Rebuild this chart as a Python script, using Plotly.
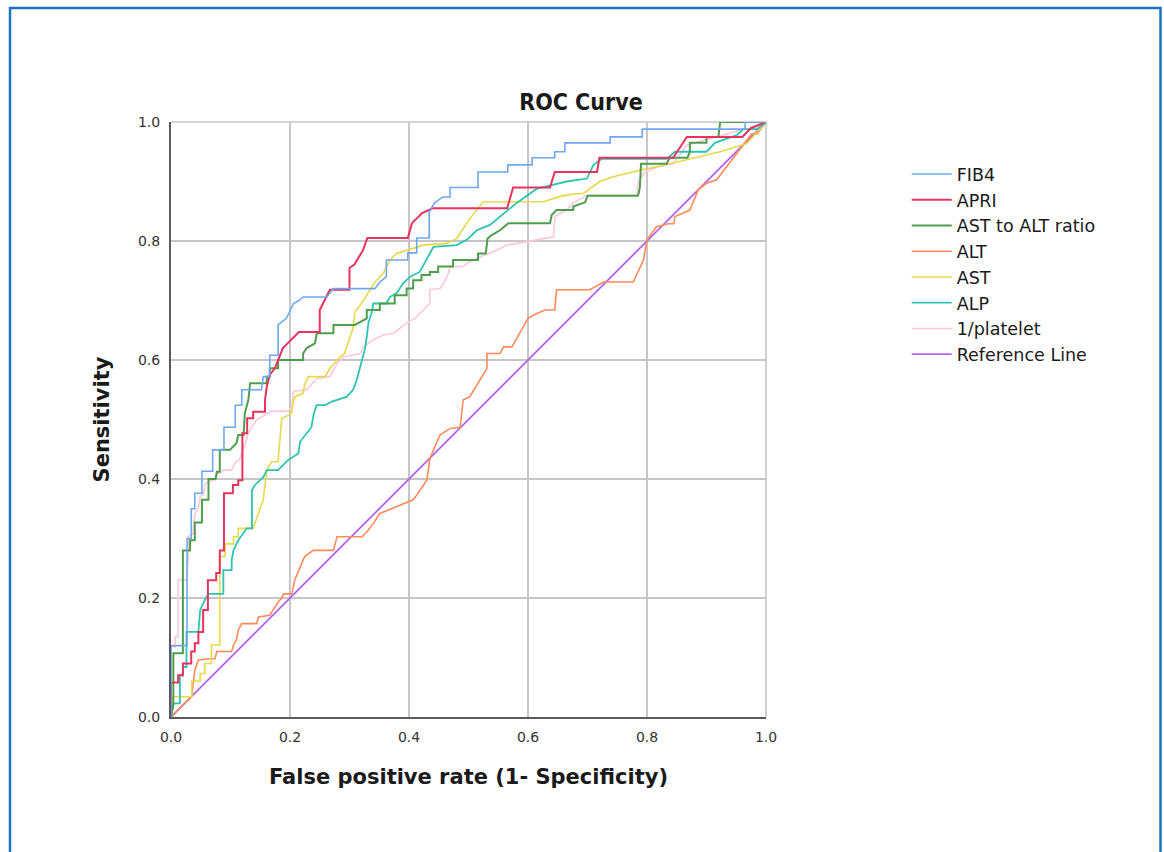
import plotly.graph_objects as go

tick_vals = [0.0, 0.2, 0.4, 0.6, 0.8, 1.0]
tick_text = ["0.0", "0.2", "0.4", "0.6", "0.8", "1.0"]

series_names = ["FIB4", "APRI", "AST to ALT ratio", "ALT", "AST", "ALP", "1/platelet", "Reference Line"]

fib4_fpr = [0, 0, 0.027, 0.027, 0.034, 0.034, 0.04, 0.04, 0.052, 0.052, 0.07, 0.07, 0.089, 0.089,
            0.108, 0.108, 0.119, 0.119, 0.152, 0.155, 0.166, 0.166, 0.18, 0.18, 0.194, 0.2, 0.206,
            0.215, 0.222, 0.262, 0.273, 0.343, 0.35, 0.362, 0.362, 0.398, 0.398, 0.413, 0.413, 0.434,
            0.434, 0.443, 0.457, 0.469, 0.469, 0.516, 0.516, 0.566, 0.566, 0.607, 0.607, 0.645, 0.645,
            0.662, 0.662, 0.738, 0.738, 0.792, 0.792, 0.965, 0.965, 1.0]
fib4_tpr = [0, 0.12, 0.12, 0.3, 0.3, 0.35, 0.35, 0.376, 0.376, 0.413, 0.413, 0.449, 0.449, 0.487,
            0.487, 0.524, 0.524, 0.55, 0.55, 0.572, 0.572, 0.608, 0.608, 0.659, 0.67, 0.684, 0.695,
            0.7, 0.706, 0.706, 0.72, 0.72, 0.73, 0.74, 0.768, 0.768, 0.78, 0.78, 0.805, 0.805,
            0.849, 0.864, 0.874, 0.874, 0.89, 0.89, 0.916, 0.916, 0.928, 0.928, 0.94, 0.94, 0.95,
            0.95, 0.965, 0.965, 0.975, 0.975, 0.988, 0.988, 1.0, 1.0]

apri_fpr = [0, 0, 0.012, 0.012, 0.02, 0.02, 0.034, 0.034, 0.04, 0.04, 0.046, 0.046, 0.054, 0.054,
            0.062, 0.062, 0.076, 0.076, 0.082, 0.082, 0.089, 0.089, 0.104, 0.104, 0.113, 0.113,
            0.12, 0.12, 0.128, 0.128, 0.138, 0.138, 0.158, 0.158, 0.161, 0.166, 0.175, 0.182, 0.188,
            0.198, 0.215, 0.25, 0.25, 0.267, 0.3, 0.3, 0.308, 0.323, 0.33, 0.398, 0.405, 0.422, 0.44,
            0.565, 0.575, 0.637, 0.645, 0.716, 0.72, 0.844, 0.867, 0.934, 0.96, 0.975, 1.0]
apri_tpr = [0, 0.058, 0.058, 0.07, 0.07, 0.09, 0.09, 0.11, 0.11, 0.124, 0.124, 0.143, 0.143, 0.18,
            0.18, 0.23, 0.23, 0.242, 0.242, 0.28, 0.28, 0.376, 0.376, 0.39, 0.39, 0.398, 0.398,
            0.477, 0.477, 0.502, 0.502, 0.513, 0.513, 0.533, 0.555, 0.575, 0.587, 0.605, 0.62, 0.63,
            0.647, 0.647, 0.684, 0.718, 0.718, 0.755, 0.76, 0.785, 0.805, 0.805, 0.83, 0.847, 0.855,
            0.855, 0.89, 0.89, 0.916, 0.916, 0.94, 0.94, 0.975, 0.975, 0.975, 0.99, 1.0]

ratio_fpr = [0, 0.004, 0.004, 0.02, 0.02, 0.032, 0.032, 0.04, 0.04, 0.052, 0.052, 0.063, 0.063,
             0.075, 0.077, 0.082, 0.082, 0.099, 0.11, 0.113, 0.122, 0.124, 0.13, 0.133, 0.161,
             0.161, 0.166, 0.166, 0.18, 0.18, 0.222, 0.222, 0.228, 0.242, 0.245, 0.273, 0.273,
             0.309, 0.329, 0.329, 0.351, 0.351, 0.376, 0.376, 0.396, 0.396, 0.407, 0.407, 0.421,
             0.421, 0.435, 0.435, 0.449, 0.449, 0.474, 0.474, 0.516, 0.516, 0.529, 0.532, 0.539,
             0.553, 0.567, 0.637, 0.64, 0.648, 0.676, 0.676, 0.696, 0.7, 0.785, 0.788, 0.79, 0.833,
             0.838, 0.868, 0.872, 0.872, 0.9, 0.9, 0.92, 0.923, 1.0]
ratio_tpr = [0, 0.024, 0.107, 0.107, 0.28, 0.28, 0.297, 0.297, 0.327, 0.327, 0.365, 0.365, 0.4,
             0.4, 0.412, 0.412, 0.449, 0.449, 0.46, 0.474, 0.474, 0.51, 0.533, 0.561, 0.561,
             0.572, 0.572, 0.586, 0.586, 0.6, 0.6, 0.611, 0.62, 0.628, 0.645, 0.645, 0.659,
             0.659, 0.67, 0.684, 0.684, 0.695, 0.695, 0.709, 0.709, 0.72, 0.72, 0.734, 0.734,
             0.743, 0.743, 0.748, 0.748, 0.757, 0.757, 0.768, 0.768, 0.779, 0.779, 0.804, 0.81,
             0.818, 0.83, 0.83, 0.844, 0.852, 0.852, 0.858, 0.865, 0.876, 0.876, 0.89, 0.93, 0.93,
             0.94, 0.94, 0.95, 0.965, 0.965, 0.975, 0.975, 1.0, 1.0]

alt_fpr = [0, 0.035, 0.04, 0.046, 0.063, 0.074, 0.077, 0.102, 0.105, 0.11, 0.113, 0.119, 0.144,
           0.147, 0.166, 0.18, 0.186, 0.189, 0.203, 0.208, 0.222, 0.225, 0.239, 0.273, 0.279, 0.321,
           0.329, 0.34, 0.351, 0.407, 0.413, 0.43, 0.435, 0.452, 0.469, 0.486, 0.491, 0.502, 0.531,
           0.531, 0.553, 0.559, 0.573, 0.6, 0.615, 0.629, 0.645, 0.648, 0.704, 0.727, 0.777, 0.794,
           0.8, 0.816, 0.836, 0.845, 0.847, 0.872, 0.886, 0.9, 0.917, 0.951, 0.976, 0.985, 1.0]
alt_tpr = [0, 0.035, 0.079, 0.096, 0.098, 0.098, 0.11, 0.11, 0.121, 0.13, 0.146, 0.157, 0.157,
           0.168, 0.171, 0.193, 0.2, 0.207, 0.207, 0.23, 0.264, 0.27, 0.28, 0.28, 0.303, 0.303,
           0.311, 0.325, 0.342, 0.365, 0.373, 0.398, 0.434, 0.474, 0.485, 0.487, 0.533, 0.538,
           0.586, 0.611, 0.611, 0.622, 0.622, 0.67, 0.678, 0.684, 0.684, 0.718, 0.718, 0.731,
           0.731, 0.768, 0.802, 0.824, 0.829, 0.829, 0.841, 0.852, 0.886, 0.897, 0.903, 0.947,
           0.98, 0.98, 1.0]

ast_fpr = [0, 0.003, 0.035, 0.035, 0.049, 0.049, 0.057, 0.057, 0.068, 0.068, 0.082, 0.082, 0.091,
           0.091, 0.105, 0.105, 0.113, 0.113, 0.138, 0.147, 0.155, 0.161, 0.169, 0.18, 0.186, 0.2,
           0.203, 0.205, 0.208, 0.222, 0.225, 0.231, 0.259, 0.267, 0.276, 0.284, 0.292, 0.295,
           0.306, 0.309, 0.318, 0.334, 0.343, 0.357, 0.368, 0.379, 0.399, 0.424, 0.463, 0.48,
           0.491, 0.505, 0.525, 0.626, 0.654, 0.676, 0.693, 0.721, 0.743, 0.788, 0.822, 0.867,
           0.923, 0.968, 0.978, 1.0]
ast_tpr = [0, 0.034, 0.034, 0.06, 0.06, 0.073, 0.073, 0.09, 0.09, 0.121, 0.121, 0.27, 0.27, 0.291,
           0.291, 0.303, 0.303, 0.317, 0.317, 0.342, 0.365, 0.415, 0.429, 0.429, 0.502, 0.508,
           0.513, 0.527, 0.538, 0.544, 0.56, 0.572, 0.572, 0.586, 0.597, 0.605, 0.611, 0.622,
           0.653, 0.681, 0.692, 0.718, 0.731, 0.746, 0.768, 0.779, 0.785, 0.793, 0.796, 0.804,
           0.821, 0.841, 0.866, 0.866, 0.875, 0.879, 0.88, 0.9, 0.908, 0.919, 0.926, 0.937, 0.95,
           0.964, 0.975, 1.0]

alp_fpr = [0, 0.005, 0.015, 0.015, 0.02, 0.02, 0.026, 0.026, 0.046, 0.049, 0.057, 0.063, 0.088,
           0.088, 0.102, 0.102, 0.105, 0.113, 0.121, 0.127, 0.136, 0.136, 0.141, 0.155, 0.161,
           0.18, 0.197, 0.214, 0.217, 0.236, 0.24, 0.245, 0.259, 0.27, 0.295, 0.306, 0.312, 0.318,
           0.326, 0.329, 0.332, 0.337, 0.34, 0.362, 0.368, 0.379, 0.39, 0.402, 0.418, 0.441, 0.48,
           0.497, 0.514, 0.536, 0.553, 0.581, 0.615, 0.665, 0.699, 0.71, 0.724, 0.833, 0.847, 0.9,
           0.914, 0.951, 0.962, 0.985, 1.0]
alp_tpr = [0, 0.023, 0.023, 0.07, 0.07, 0.084, 0.084, 0.143, 0.143, 0.18, 0.197, 0.207, 0.207,
           0.247, 0.247, 0.264, 0.28, 0.297, 0.308, 0.317, 0.317, 0.381, 0.39, 0.403, 0.415,
           0.415, 0.432, 0.443, 0.463, 0.487, 0.51, 0.524, 0.524, 0.53, 0.538, 0.55, 0.566, 0.589,
           0.619, 0.639, 0.664, 0.678, 0.695, 0.695, 0.706, 0.712, 0.729, 0.74, 0.748, 0.79, 0.793,
           0.802, 0.818, 0.827, 0.841, 0.864, 0.888, 0.9, 0.905, 0.928, 0.938, 0.938, 0.95, 0.95,
           0.965, 0.978, 0.988, 0.988, 1.0]

plt_fpr = [0, 0, 0.007, 0.007, 0.012, 0.012, 0.026, 0.029, 0.029, 0.037, 0.04, 0.046, 0.049,
           0.055, 0.057, 0.068, 0.074, 0.077, 0.088, 0.102, 0.108, 0.115, 0.122, 0.125, 0.13,
           0.136, 0.144, 0.158, 0.169, 0.197, 0.203, 0.206, 0.228, 0.245, 0.267, 0.279, 0.29,
           0.318, 0.323, 0.34, 0.357, 0.374, 0.385, 0.396, 0.41, 0.43, 0.435, 0.435, 0.452, 0.458,
           0.466, 0.469, 0.49, 0.502, 0.519, 0.542, 0.564, 0.598, 0.643, 0.645, 0.665, 0.676, 0.699,
           0.783, 0.786, 0.797, 0.816, 0.844, 0.867, 0.917, 0.956, 0.985, 1.0]
plt_tpr = [0, 0.118, 0.118, 0.135, 0.135, 0.23, 0.23, 0.27, 0.303, 0.308, 0.34, 0.353, 0.37,
           0.376, 0.392, 0.398, 0.398, 0.407, 0.415, 0.415, 0.429, 0.432, 0.451, 0.46, 0.477,
           0.488, 0.499, 0.508, 0.514, 0.514, 0.521, 0.547, 0.55, 0.569, 0.572, 0.594, 0.605,
           0.611, 0.622, 0.634, 0.642, 0.645, 0.653, 0.662, 0.67, 0.69, 0.695, 0.718, 0.72, 0.729,
           0.745, 0.757, 0.757, 0.765, 0.773, 0.782, 0.793, 0.799, 0.807, 0.841, 0.852, 0.864,
           0.877, 0.877, 0.902, 0.916, 0.924, 0.93, 0.961, 0.975, 0.986, 0.99, 1.0]

ref_fpr = [0, 1]
ref_tpr = [0, 1]

colors = ["#6fa8f0", "#e8335e", "#4f9e4f", "#ff8a5b", "#e6d94a", "#2ec4b0", "#ffc6dc", "#b163f2"]
widths = [1.6, 2.0, 2.0, 1.6, 1.6, 1.8, 1.6, 1.8]

xs = [fib4_fpr, apri_fpr, ratio_fpr, alt_fpr, ast_fpr, alp_fpr, plt_fpr, ref_fpr]
ys = [fib4_tpr, apri_tpr, ratio_tpr, alt_tpr, ast_tpr, alp_tpr, plt_tpr, ref_tpr]

fig = go.Figure()
draw_order = [7, 6, 3, 4, 5, 2, 1, 0]
for i in draw_order:
    fig.add_trace(go.Scatter(
        x=xs[i], y=ys[i], mode="lines", name=series_names[i],
        line=dict(color=colors[i], width=widths[i]),
        legendrank=i + 1,
    ))

base_font = "DejaVu Sans, Verdana, sans-serif"
title_font = "DejaVu Sans Condensed, Liberation Sans Narrow, DejaVu Sans, sans-serif"

fig.update_layout(
    width=1164, height=852,
    paper_bgcolor="white", plot_bgcolor="white",
    margin=dict(l=171, r=398, t=122, b=135, autoexpand=False),
    title=dict(text="<b>ROC Curve</b>", x=581 / 1164, xanchor="center",
               y=1 - 102 / 852, yanchor="middle",
               font=dict(family=title_font, size=23, color="#1a1a1a")),
    showlegend=True,
    legend=dict(x=1.2365, y=0.9427, xanchor="left", yanchor="top",
                font=dict(family=base_font, size=17.5, color="#1a1a1a"),
                bgcolor="rgba(0,0,0,0)", traceorder="normal", itemwidth=40),
    font=dict(family=base_font, color="#333"),
)

fig.update_xaxes(
    range=[0, 1], tickvals=tick_vals, ticktext=tick_text,
    showgrid=True, gridcolor="#c6c6c6", gridwidth=1.6,
    zeroline=False, showline=True, linecolor="#5a5a5a", linewidth=2,
    ticks="", ticklabelstandoff=6,
    tickfont=dict(family=base_font, size=14, color="#333"),
    title=dict(text="<b>False positive rate (1- Specificity)</b>",
               font=dict(family=base_font, size=21, color="#1a1a1a"), standoff=26),
    fixedrange=True,
)
fig.update_yaxes(
    range=[0, 1], tickvals=tick_vals, ticktext=tick_text,
    showgrid=True, gridcolor="#c6c6c6", gridwidth=1.6,
    zeroline=False, showline=True, linecolor="#5a5a5a", linewidth=2,
    ticks="", ticklabelstandoff=6,
    tickfont=dict(family=base_font, size=14, color="#333"),
    title=dict(text="<b>Sensitivity</b>",
               font=dict(family=base_font, size=21, color="#1a1a1a"), standoff=23),
    fixedrange=True,
)

fig.add_shape(type="line", xref="paper", yref="paper", x0=0, x1=1, y0=1, y1=1,
              line=dict(color="#c6c6c6", width=1.6), layer="below")
fig.add_shape(type="line", xref="paper", yref="paper", x0=1, x1=1, y0=0, y1=1,
              line=dict(color="#c6c6c6", width=1.6), layer="below")

# blue outer frame of the screenshot
px_l, px_r, px_t, px_b = 10, 1160.5, 8, 900
fig.add_shape(type="rect", xref="paper", yref="paper",
              x0=(px_l - 171) / 595, x1=(px_r - 171) / 595,
              y0=(717 - px_b) / 595, y1=(717 - px_t) / 595,
              line=dict(color="#1f74c6", width=2.5), fillcolor="rgba(0,0,0,0)", layer="above")

fig.write_html("out.html", config={"displayModeBar": False},
               post_script="document.body.style.margin='0px';")
